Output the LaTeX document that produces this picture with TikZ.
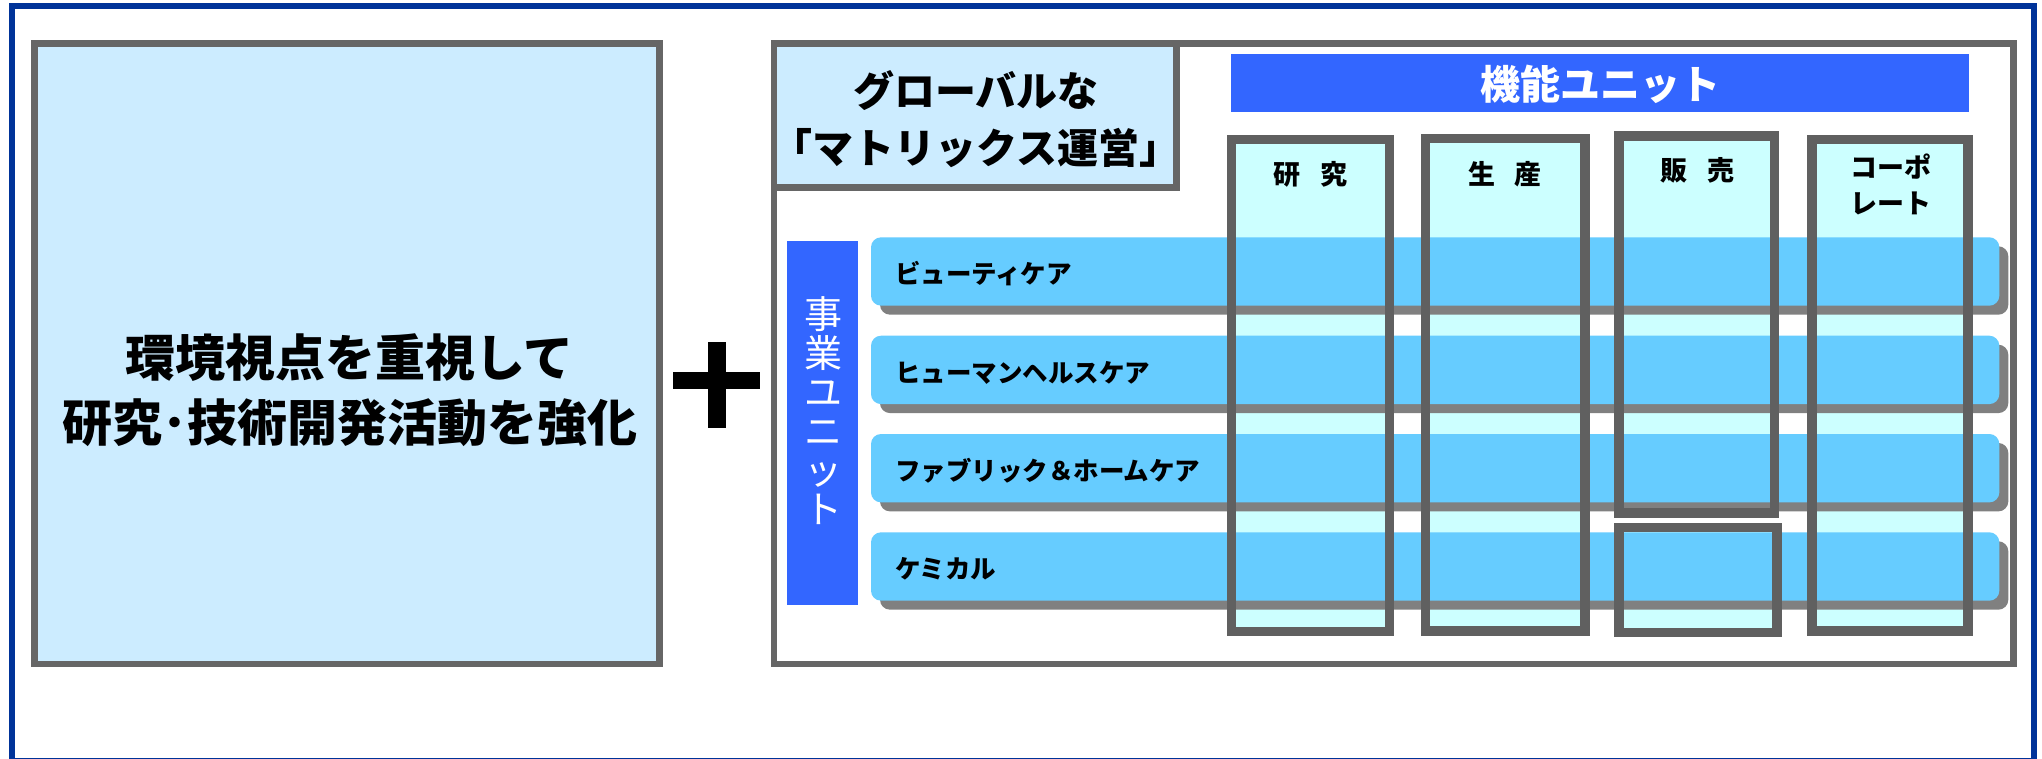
\documentclass[tikz,border=0pt]{standalone}
\usepackage{fontspec}
\newfontfamily\jp{Noto Sans CJK JP}
\usetikzlibrary{shadows}
\definecolor{frameblue}{HTML}{003399}
\definecolor{boxgray}{HTML}{666666}
\definecolor{colgray}{HTML}{606060}
\definecolor{lightblue}{HTML}{CCECFF}
\definecolor{barblue}{HTML}{3366FF}
\definecolor{rowblue}{HTML}{66CCFF}
\definecolor{shadowgray}{HTML}{808080}
\definecolor{colfill}{HTML}{CCFFFF}
\begin{document}
\begin{tikzpicture}[x=1pt,y=-1pt,
  every node/.style={outer sep=0pt, inner sep=0pt, font=\jp},
  bigbox/.style={draw=boxgray, line width=6.5pt, fill=lightblue},
  bluebar/.style={fill=barblue},
  colbg/.style={fill=colfill},
  colborder/.style={draw=colgray, line width=9.5pt},
  rowband/.style={fill=rowblue, rounded corners=10pt, minimum width=1128.3pt, minimum height=68.4pt, anchor=north west,
    drop shadow={shadow xshift=9pt, shadow yshift=-9pt, fill=shadowgray, opacity=1}},
  rowtext/.style={anchor=west, font=\jp\bfseries\fontsize{25.5}{28}\selectfont},
  coltext/.style={align=center, font=\jp\bfseries\fontsize{27}{36}\selectfont}]
\useasboundingbox (0,0) rectangle (2042,759);
% outer frame
\draw[frameblue, line width=6pt] (12.3,6.3) rectangle (2034,761);
% left box
\node[bigbox, anchor=north west, minimum width=625.2pt, minimum height=620.7pt] (left) at (34.3,43.3) {};
\node[align=center, font=\jp\bfseries\fontsize{50}{65}\selectfont] (ltext) at (349.5,390) {環境視点を重視して\\研究･技術開発活動を強化};
% plus sign
\fill (673,372) rectangle (760,389);
\fill (708,342) rectangle (726,428);
% matrix box
\node[bigbox, fill=white, anchor=north west, minimum width=1239.3pt, minimum height=620.7pt] (matrix) at (774,43.3) {};
\node[bigbox, anchor=north west, minimum width=402.7pt, minimum height=144pt] (title) at (774,43.3) {};
\node[align=center, font=\jp\bfseries\fontsize{41}{57}\selectfont] (ttext) at (976,119) {グローバルな\\「マトリックス運営」};
% function unit bar
\node[bluebar, anchor=north west, minimum width=738pt, minimum height=57.7pt] (func) at (1231,54) {};
\node[text=white, font=\jp\bfseries\fontsize{40}{44}\selectfont] (ftext) at (1600,84) {機能ユニット};
% column backgrounds
\node[colbg, anchor=north west, minimum width=158pt, minimum height=492.2pt] (c1) at (1231.7,139.3) {};
\node[colbg, anchor=north west, minimum width=159.3pt, minimum height=492.5pt] (c2) at (1425.7,138.5) {};
\node[colbg, anchor=north west, minimum width=155.5pt, minimum height=376.6pt] (c3) at (1618.8,136.2) {};
\node[colbg, anchor=north west, minimum width=158.2pt, minimum height=105pt] (c4) at (1618.8,527.3) {};
\node[colbg, anchor=north west, minimum width=156pt, minimum height=491.7pt] (c5) at (1812,139.3) {};
% business unit bar
\node[bluebar, anchor=north west, minimum width=70.4pt, minimum height=363.7pt] (biz) at (787.3,241) {};
\node[text=white, align=center, font=\jp\fontsize{38}{39}\selectfont] (btext) at (823,411) {事\\業\\ユ\\ニ\\ッ\\ト};
% rows
\node[rowband] (r1) at (871,237.3) {};
\node[rowband] (r2) at (871,335.7) {};
\node[rowband] (r3) at (871,434) {};
\node[rowband] (r4) at (871,532.3) {};
\node[rowtext] (t1) at (895,274) {ビューティケア};
\node[rowtext] (t2) at (895,372.5) {ヒューマンヘルスケア};
\node[rowtext] (t3) at (895,471) {ファブリック＆ホームケア};
\node[rowtext] (t4) at (895,569) {ケミカル};
% column borders
\foreach \c in {c1,c2,c3,c4,c5}{
  \draw[colborder] (\c.north west) rectangle (\c.south east);
}
% column labels
\node[coltext] (l1) at (1310.7,174) {研\hspace{20pt}究};
\node[coltext] (l2) at (1505,174) {生\hspace{20pt}産};
\node[coltext] (l3) at (1697,170) {販\hspace{20pt}売};
\node[coltext] (l5) at (1891,184) {コーポ\\レート};
\end{tikzpicture}
\end{document}
